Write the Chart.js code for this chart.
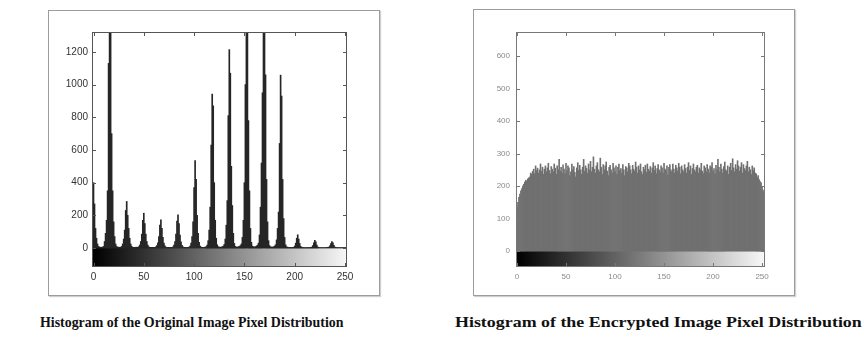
<!DOCTYPE html>
<html>
<head>
<meta charset="utf-8">
<script src="https://cdn.jsdelivr.net/npm/chart.js@4.4.1/dist/chart.umd.min.js"></script>
<style>
  body { margin: 0; background: #fff; width: 864px; height: 339px; position: relative; overflow: hidden; }
  .frame { position: absolute; border: 1px solid #9c9c9c; box-shadow: 1px 1px 1px #d0d0d0; background: #fff; }
  .frame canvas { display: block; }
  .caption { position: absolute; font-family: "Liberation Serif", "DejaVu Serif", serif; font-weight: bold; color: #111; white-space: nowrap; transform-origin: left top; }
</style>
</head>
<body>
<div class="frame" style="left:48px; top:10px;"><canvas id="orig" width="330" height="284"></canvas></div>
<div class="frame" style="left:473px; top:9px;"><canvas id="enc" width="320" height="285"></canvas></div>
<div class="caption" id="cap1" style="left:40px; top:314px; font-size:15px;">Histogram of the Original Image Pixel Distribution</div>
<div class="caption" id="cap2" style="left:455px; top:314px; font-size:15px;">Histogram of the Encrypted Image Pixel Distribution</div>
<script>
// grey levels 0..255
const bins = Array.from({ length: 256 }, (_, i) => i);

// pixel counts per grey level, original image (rows of 16)
const originalCounts = [
  400, 270, 120, 60, 25, 10, 6, 5, 5, 6, 10, 40, 90, 170, 350, 1130,
  2600, 1400, 700, 350, 160, 70, 25, 10, 6, 5, 5, 5, 10, 25, 55, 110,
  230, 285, 200, 120, 60, 25, 10, 5, 4, 4, 5, 5, 5, 8, 18, 40,
  85, 170, 213, 150, 85, 40, 18, 8, 5, 4, 4, 4, 5, 5, 7, 15,
  32, 70, 140, 173, 120, 65, 30, 14, 6, 5, 4, 4, 4, 5, 5, 8,
  18, 40, 85, 165, 203, 150, 80, 38, 16, 7, 5, 4, 4, 5, 5, 6,
  12, 30, 70, 160, 370, 535, 420, 200, 90, 35, 12, 6, 5, 5, 5, 6,
  8, 18, 45, 110, 250, 630, 942, 870, 400, 170, 60, 20, 8, 6, 5, 6,
  8, 12, 22, 55, 140, 290, 810, 1214, 1070, 500, 260, 90, 28, 10, 6, 6,
  8, 10, 15, 25, 65, 170, 400, 1000, 1900, 1600, 780, 350, 120, 35, 12, 8,
  7, 8, 12, 18, 30, 80, 250, 520, 950, 2100, 1700, 1060, 420, 160, 45, 15,
  8, 6, 6, 8, 12, 20, 50, 120, 220, 640, 1058, 930, 420, 180, 65, 20,
  8, 5, 4, 4, 4, 4, 4, 5, 12, 30, 60, 81, 55, 28, 10, 5,
  4, 3, 3, 3, 3, 3, 3, 4, 4, 6, 15, 32, 47, 38, 18, 6,
  4, 3, 3, 3, 3, 3, 3, 3, 4, 4, 6, 14, 28, 40, 32, 16,
  6, 4, 3, 3, 3, 3, 3, 3, 3, 3, 3, 3, 3, 3, 3, 3
];

// pixel counts per grey level, encrypted image
const encryptedCounts = [
  135, 150, 165, 175, 185, 192, 200, 205, 212, 218, 215, 222, 225, 228, 240, 236,
  245, 252, 238, 262, 248, 255, 240, 250, 268, 245, 258, 236, 252, 262, 244, 256,
  270, 248, 238, 260, 252, 244, 268, 255, 236, 262, 250, 282, 246, 258, 240, 265,
  252, 238, 270, 248, 262, 256, 232, 244, 268, 250, 260, 242, 228, 256, 272, 248,
  264, 250, 236, 258, 282, 246, 262, 254, 240, 268, 250, 276, 244, 258, 290, 252,
  240, 262, 272, 250, 244, 286, 258, 236, 266, 250, 262, 274, 246, 232, 258, 264,
  250, 240, 270, 256, 244, 262, 236, 258, 268, 248, 254, 240, 266, 250, 232, 260,
  256, 244, 270, 262, 250, 238, 264, 252, 246, 274, 258, 240, 262, 250, 268, 244,
  236, 258, 250, 264, 242, 268, 252, 246, 260, 240, 256, 272, 248, 262, 238, 254,
  266, 250, 244, 262, 256, 240, 270, 252, 248, 262, 234, 258, 266, 250, 244, 268,
  252, 240, 264, 256, 246, 270, 258, 238, 262, 250, 244, 266, 254, 240, 258, 272,
  248, 262, 236, 254, 268, 250, 244, 258, 264, 240, 256, 250, 270, 246, 238, 262,
  256, 244, 266, 252, 240, 262, 258, 272, 246, 254, 238, 264, 250, 282, 258, 244,
  268, 252, 240, 260, 274, 250, 246, 262, 236, 258, 270, 248, 284, 256, 244, 266,
  252, 278, 262, 246, 258, 272, 240, 266, 254, 248, 262, 276, 244, 258, 250, 236,
  262, 248, 256, 240, 238, 226, 232, 220, 214, 210, 196, 188, 180, 172, 160, 150
];

const xTicks = [0, 50, 100, 150, 200, 250];
const originalYTicks = [0, 200, 400, 600, 800, 1000, 1200];
const encryptedYTicks = [0, 100, 200, 300, 400, 500, 600];

// grey colorbar under zero + MATLAB style box with inward ticks
const matlabBox = {
  id: 'matlabBox',
  beforeDatasetsDraw(chart) {
    const { ctx, chartArea: a, scales: { x, y } } = chart;
    const y0 = Math.round(y.getPixelForValue(0));
    const g = ctx.createLinearGradient(x.getPixelForValue(0), 0, x.getPixelForValue(255), 0);
    g.addColorStop(0, '#000');
    g.addColorStop(1, '#fafafa');
    ctx.save();
    ctx.fillStyle = g;
    ctx.fillRect(a.left, y0, a.right - a.left, a.bottom - y0);
    ctx.restore();
  },
  afterDraw(chart, args, opts) {
    const { ctx, chartArea: a, scales: { x, y } } = chart;
    ctx.save();
    ctx.strokeStyle = opts.color;
    ctx.lineWidth = 1;
    ctx.strokeRect(a.left + 0.5, a.top + 0.5, a.right - a.left - 1, a.bottom - a.top - 1);
    ctx.beginPath();
    y.ticks.forEach(t => {
      const py = Math.round(y.getPixelForValue(t.value)) + 0.5;
      ctx.moveTo(a.left, py); ctx.lineTo(a.left + 4, py);
      ctx.moveTo(a.right, py); ctx.lineTo(a.right - 4, py);
    });
    x.ticks.forEach(t => {
      const px = Math.round(x.getPixelForValue(t.value)) + 0.5;
      ctx.moveTo(px, a.bottom); ctx.lineTo(px, a.bottom - 4);
      ctx.moveTo(px, a.top); ctx.lineTo(px, a.top + 4);
    });
    ctx.stroke();
    ctx.restore();
  }
};

function makeHist(id, counts, cfg) {
  return new Chart(document.getElementById(id), {
    type: 'bar',
    data: {
      datasets: [{
        data: bins.map((b, i) => ({ x: b, y: counts[i] })),
        backgroundColor: cfg.barColor,
        borderWidth: 0,
        barPercentage: 1,
        categoryPercentage: 1
      }]
    },
    plugins: [matlabBox],
    options: {
      responsive: false,
      animation: false,
      devicePixelRatio: 1,
      layout: { padding: cfg.padding },
      plugins: {
        legend: { display: false },
        tooltip: { enabled: false },
        matlabBox: { color: cfg.boxColor }
      },
      scales: {
        x: {
          type: 'linear',
          min: cfg.xMin,
          max: cfg.xMax,
          offset: false,
          grid: { display: false, drawTicks: false },
          border: { display: false },
          afterBuildTicks: s => { s.ticks = xTicks.map(v => ({ value: v })); },
          afterFit: s => { s.height = cfg.xHeight; },
          ticks: { autoSkip: false, maxRotation: 0, padding: cfg.xPad, color: cfg.tickColor, font: { family: 'Liberation Sans', size: cfg.fontSize } }
        },
        y: {
          min: cfg.yMin,
          max: cfg.yMax,
          grid: { display: false, drawTicks: false },
          border: { display: false },
          afterBuildTicks: s => { s.ticks = cfg.yTicks.map(v => ({ value: v })); },
          afterFit: s => { s.width = cfg.yWidth; },
          ticks: { padding: cfg.yPad, color: cfg.tickColor, font: { family: 'Liberation Sans', size: cfg.fontSize }, callback: v => String(v) }
        }
      }
    }
  });
}

makeHist('orig', originalCounts, {
  barColor: '#262626', boxColor: '#555', tickColor: '#333', fontSize: 10,
  xMin: -1.5, xMax: 252, yMin: -116, yMax: 1322, yTicks: originalYTicks,
  padding: { top: 21, right: 32, bottom: 6, left: 0 }, yWidth: 43, xHeight: 22, xPad: 4, yPad: 4
});

makeHist('enc', encryptedCounts, {
  barColor: '#707070', boxColor: '#777', tickColor: '#8a8a8a', fontSize: 8,
  xMin: -1, xMax: 253, yMin: -49, yMax: 674, yTicks: encryptedYTicks,
  padding: { top: 22, right: 29, bottom: 6, left: 0 }, yWidth: 42, xHeight: 22, xPad: 5, yPad: 6
});

// stretch captions to the widths they have in the picture
[['cap1', 303], ['cap2', 407]].forEach(([id, w]) => {
  const el = document.getElementById(id);
  el.style.transform = 'scaleX(' + (w / el.offsetWidth) + ')';
});
</script>
</body>
</html>
